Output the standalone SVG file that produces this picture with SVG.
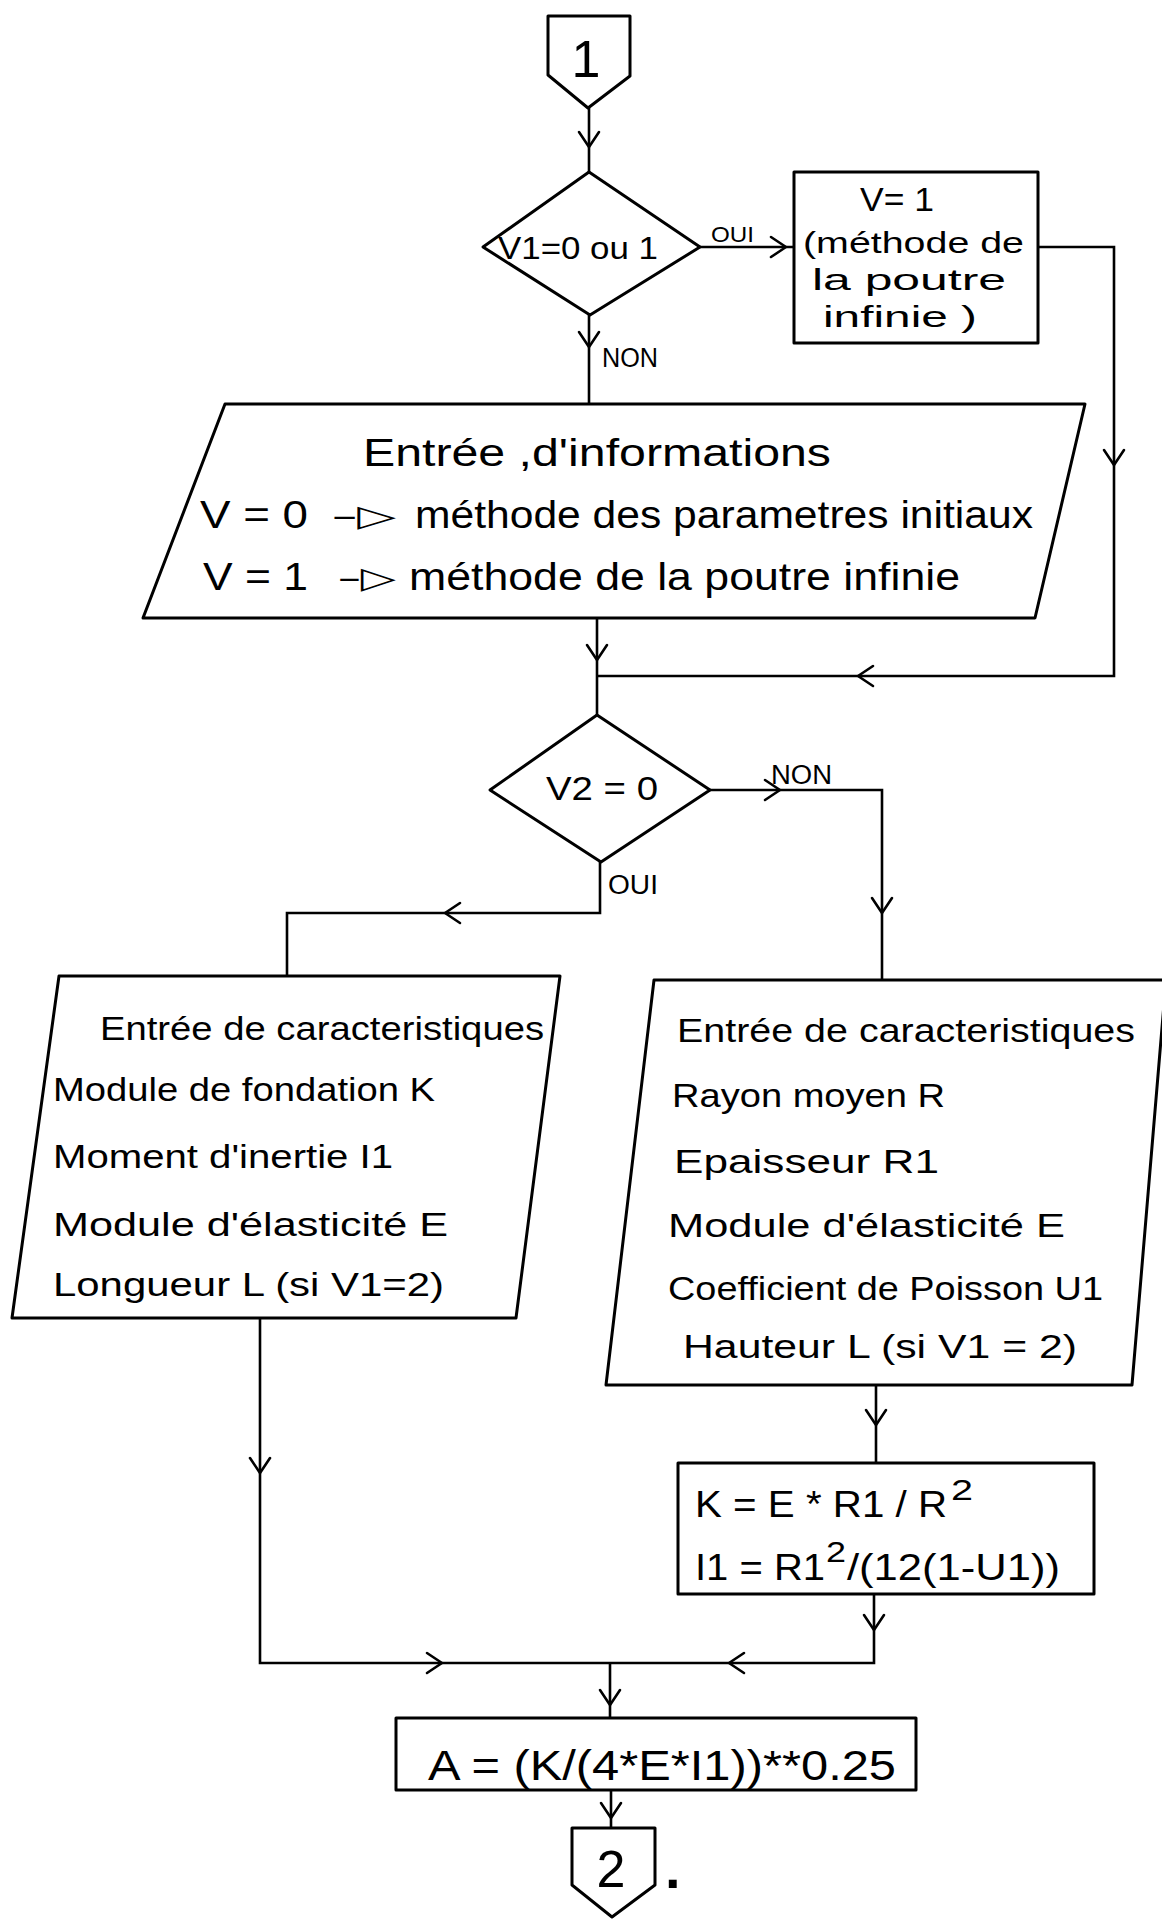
<svg xmlns="http://www.w3.org/2000/svg" width="1162" height="1919" viewBox="0 0 1162 1919">
  <style>
    .shape { fill: none; stroke: #000; stroke-width: 3; stroke-linejoin: round; }
    .wire { fill: none; stroke: #000; stroke-width: 2.6; stroke-linejoin: miter; }
    .ah { fill: none; stroke: #000; stroke-width: 2.6; stroke-linecap: round; stroke-linejoin: round; }
    .t { font-family: "Liberation Sans", Arial, "DejaVu Sans", sans-serif; fill: #000; }
    .sym { font-family: "DejaVu Sans", "Liberation Sans", sans-serif; fill: #000; }
    .lbl { font-size: 22px; }
    .lbl2 { font-size: 27px; }
    .f30 { font-size: 30px; }
    .f32 { font-size: 32px; }
    .f34 { font-size: 34px; }
    .f36 { font-size: 36px; }
    .f38 { font-size: 38px; }
    .f42 { font-size: 42px; }
    .big { font-size: 52px; }
    .dot { font-size: 56px; font-weight: bold; }
  </style>
  <defs>
    <!-- open V arrowhead, tip at origin, pointing down (+y) -->
    <path id="ah" class="ah" d="M-10,-15 L0,0 L10,-15"/>
  </defs>

  <!-- connectors -->
  <g id="connectors">
    <path class="wire" d="M589,108 V172"/>
    <use href="#ah" transform="translate(589,147)"/>

    <path class="wire" d="M700,247 H794"/>
    <use href="#ah" transform="translate(786,247) rotate(-90)"/>
    <text class="t lbl" x="711" y="242" textLength="43" lengthAdjust="spacingAndGlyphs">OUI</text>

    <path class="wire" d="M1038,247 H1114 V676 H597"/>
    <use href="#ah" transform="translate(1114,465)"/>
    <use href="#ah" transform="translate(858,676) rotate(90)"/>

    <path class="wire" d="M589,315 V404"/>
    <use href="#ah" transform="translate(589,347)"/>
    <text class="t lbl2" x="602" y="367" textLength="56" lengthAdjust="spacingAndGlyphs">NON</text>

    <path class="wire" d="M597,618 V715"/>
    <use href="#ah" transform="translate(597,660)"/>

    <path class="wire" d="M710,790 H882 V980"/>
    <use href="#ah" transform="translate(780,790) rotate(-90)"/>
    <use href="#ah" transform="translate(882,913)"/>
    <text class="t lbl2" x="771" y="784" textLength="61" lengthAdjust="spacingAndGlyphs">NON</text>

    <path class="wire" d="M600,862 V913 H287 V976"/>
    <use href="#ah" transform="translate(445,913) rotate(90)"/>
    <text class="t lbl2" x="608" y="894" textLength="50" lengthAdjust="spacingAndGlyphs">OUI</text>

    <path class="wire" d="M876,1385 V1463"/>
    <use href="#ah" transform="translate(876,1425)"/>

    <path class="wire" d="M874,1594 V1663 H610"/>
    <use href="#ah" transform="translate(874,1630)"/>
    <use href="#ah" transform="translate(729,1663) rotate(90)"/>

    <path class="wire" d="M260,1318 V1663 H610"/>
    <use href="#ah" transform="translate(260,1473)"/>
    <use href="#ah" transform="translate(442,1663) rotate(-90)"/>

    <path class="wire" d="M610,1663 V1718"/>
    <use href="#ah" transform="translate(610,1705)"/>

    <path class="wire" d="M611,1790 V1828"/>
    <use href="#ah" transform="translate(611,1818)"/>
  </g>

  <!-- off-page connector 1 -->
  <g id="start">
    <path class="shape" d="M548,16 H630 V76 L588,108 L548,75 Z"/>
    <text class="t big" x="586" y="77" text-anchor="middle">1</text>
  </g>

  <!-- decision V1 -->
  <g id="decision-v1">
    <path class="shape" d="M589,172 L700,247 L590,315 L483,247 Z"/>
    <text class="t f32" x="498" y="259" textLength="160" lengthAdjust="spacingAndGlyphs">V1=0 ou 1</text>
  </g>

  <!-- process V=1 -->
  <g id="set-v1">
    <rect class="shape" x="794" y="172" width="244" height="171"/>
    <text class="t f34" x="860" y="211" textLength="74" lengthAdjust="spacingAndGlyphs">V= 1</text>
    <text class="t f30" x="803" y="253" textLength="221" lengthAdjust="spacingAndGlyphs">(méthode de</text>
    <text class="t f30" x="812" y="290" textLength="194" lengthAdjust="spacingAndGlyphs">la poutre</text>
    <text class="t f30" x="823" y="327" textLength="154" lengthAdjust="spacingAndGlyphs">infinie )</text>
  </g>

  <!-- input: informations -->
  <g id="input-info">
    <path class="shape" d="M225,404 H1085 L1035,618 H143 Z"/>
    <text class="t f38" x="363" y="466" textLength="468" lengthAdjust="spacingAndGlyphs">Entrée ,d'informations</text>
    <text class="t f38" x="200" y="528" textLength="108" lengthAdjust="spacingAndGlyphs">V = 0</text>
    <text class="sym f30" x="332" y="526" textLength="64" lengthAdjust="spacingAndGlyphs">–▷</text>
    <text class="t f38" x="415" y="528" textLength="618" lengthAdjust="spacingAndGlyphs">méthode des parametres initiaux</text>
    <text class="t f38" x="203" y="590" textLength="105" lengthAdjust="spacingAndGlyphs">V = 1</text>
    <text class="sym f30" x="338" y="588" textLength="58" lengthAdjust="spacingAndGlyphs">–▷</text>
    <text class="t f38" x="409" y="590" textLength="551" lengthAdjust="spacingAndGlyphs">méthode de la poutre infinie</text>
  </g>

  <!-- decision V2 -->
  <g id="decision-v2">
    <path class="shape" d="M597,715 L710,790 L601,862 L490,790 Z"/>
    <text class="t f34" x="546" y="800" textLength="112" lengthAdjust="spacingAndGlyphs">V2 = 0</text>
  </g>

  <!-- input: beam characteristics -->
  <g id="input-beam">
    <path class="shape" d="M59,976 H560 L516,1318 H12 Z"/>
    <text class="t f34" x="100" y="1040" textLength="444" lengthAdjust="spacingAndGlyphs">Entrée de caracteristiques</text>
    <text class="t f34" x="53" y="1101" textLength="382" lengthAdjust="spacingAndGlyphs">Module de fondation K</text>
    <text class="t f34" x="53" y="1168" textLength="340" lengthAdjust="spacingAndGlyphs">Moment d'inertie I1</text>
    <text class="t f34" x="53" y="1236" textLength="395" lengthAdjust="spacingAndGlyphs">Module d'élasticité E</text>
    <text class="t f34" x="53" y="1296" textLength="391" lengthAdjust="spacingAndGlyphs">Longueur L (si V1=2)</text>
  </g>

  <!-- input: shell characteristics -->
  <g id="input-shell">
    <path class="shape" d="M654,980 H1166 L1132,1385 H606 Z"/>
    <text class="t f34" x="677" y="1042" textLength="458" lengthAdjust="spacingAndGlyphs">Entrée de caracteristiques</text>
    <text class="t f34" x="672" y="1107" textLength="273" lengthAdjust="spacingAndGlyphs">Rayon moyen R</text>
    <text class="t f34" x="674" y="1173" textLength="265" lengthAdjust="spacingAndGlyphs">Epaisseur R1</text>
    <text class="t f34" x="668" y="1237" textLength="397" lengthAdjust="spacingAndGlyphs">Module d'élasticité E</text>
    <text class="t f34" x="668" y="1300" textLength="435" lengthAdjust="spacingAndGlyphs">Coefficient de Poisson U1</text>
    <text class="t f34" x="683" y="1358" textLength="394" lengthAdjust="spacingAndGlyphs">Hauteur L (si V1 = 2)</text>
  </g>

  <!-- process: K and I1 -->
  <g id="calc-k-i1">
    <rect class="shape" x="678" y="1463" width="416" height="131"/>
    <text class="t f36" x="695" y="1517" textLength="252" lengthAdjust="spacingAndGlyphs">K = E * R1 / R</text>
    <text class="t f30" x="951" y="1500" textLength="22" lengthAdjust="spacingAndGlyphs">2</text>
    <text class="t f36" x="695" y="1580" textLength="130" lengthAdjust="spacingAndGlyphs">I1 = R1</text>
    <text class="t f30" x="826" y="1562" textLength="20" lengthAdjust="spacingAndGlyphs">2</text>
    <text class="t f36" x="847" y="1580" textLength="213" lengthAdjust="spacingAndGlyphs">/(12(1-U1))</text>
  </g>

  <!-- process: A -->
  <g id="calc-a">
    <rect class="shape" x="396" y="1718" width="520" height="72"/>
    <text class="t f42" x="428" y="1780" textLength="468" lengthAdjust="spacingAndGlyphs">A = (K/(4*E*I1))**0.25</text>
  </g>

  <!-- off-page connector 2 -->
  <g id="end">
    <path class="shape" d="M572,1828 H655 V1885 L612,1917 L572,1885 Z"/>
    <text class="t big" x="611" y="1887" text-anchor="middle">2</text>
    <text class="t dot" x="665" y="1888">.</text>
  </g>
</svg>
